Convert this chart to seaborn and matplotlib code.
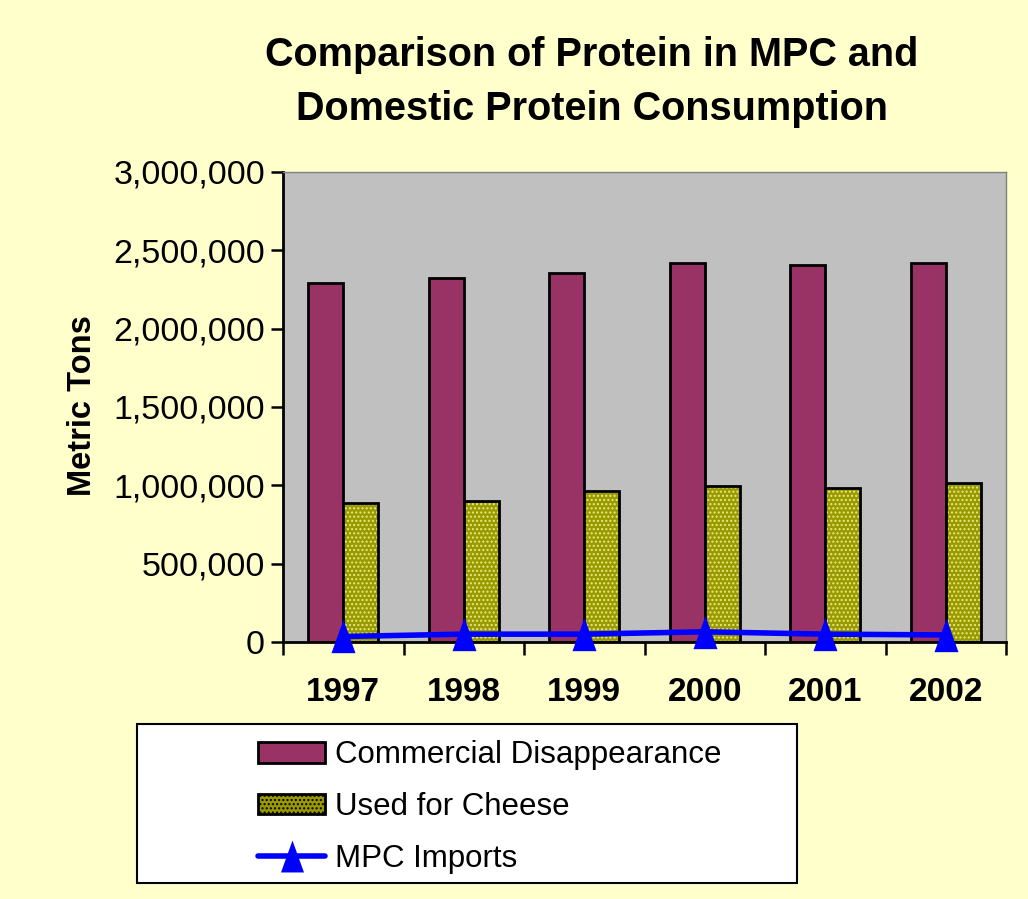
import pandas as pd
import numpy as np
import seaborn as sns
import matplotlib.pyplot as plt
from matplotlib.patches import Rectangle, Patch
from matplotlib.lines import Line2D
from matplotlib.ticker import FuncFormatter, FixedLocator

years = ["1997", "1998", "1999", "2000", "2001", "2002"]
commercial = [2290000, 2323000, 2355000, 2419000, 2406000, 2419000]
cheese = [887000, 900000, 964000, 996000, 983000, 1015000]
mpc_imports = [35000, 50000, 50000, 65000, 50000, 45000]

series_names = ["Commercial Disappearance", "Used for Cheese"]

sns.set_style("white")
plt.rcParams['font.family'] = ['Liberation Sans', 'DejaVu Sans']
plt.rcParams['text.color'] = 'black'
plt.rcParams['axes.labelcolor'] = 'black'
plt.rcParams['xtick.color'] = 'black'
plt.rcParams['ytick.color'] = 'black'

df = pd.DataFrame({
    "Year": years * 2,
    "Series": [series_names[0]] * len(years) + [series_names[1]] * len(years),
    "Tons": commercial + cheese,
})
mpc_df = pd.DataFrame({"Year": years, "Tons": mpc_imports})

fig = plt.figure(figsize=(10.28, 8.99), dpi=100, facecolor="#FFFFCC")
ax = fig.add_axes([0.2753, 0.2859, 0.7033, 0.5228])
ax.set_facecolor("#C0C0C0")

sns.barplot(data=df, x="Year", y="Tons", hue="Series", order=years,
            hue_order=series_names, palette=["#993366", "#999900"], saturation=1,
            width=0.58, edgecolor="black", linewidth=2, legend=False, ax=ax)

# cheese bars: dotted texture with light dots, then black outline on top
n = len(years)
for p in ax.patches[n:2 * n]:
    p.set_hatch("....")
    p.set_edgecolor("#E8E880")
    p.set_linewidth(0)
    ax.add_patch(Rectangle(p.get_xy(), p.get_width(), p.get_height(),
                           fill=False, edgecolor="black", linewidth=2, zorder=p.get_zorder() + 0.1))

sns.pointplot(data=mpc_df, x="Year", y="Tons", order=years, color="#0000FF",
              markers="^", linestyles="-", errorbar=None, ax=ax)
tri = [(0, 1), (-0.72, -1), (0.72, -1)]
for ln in ax.lines:
    ln.set_marker(tri)
    ln.set_markersize(24)
    ln.set_linewidth(4)
    ln.set_markeredgewidth(0)
    ln.set_clip_on(False)
    ln.set_zorder(5)

ax.set_xlim(-0.5, n - 0.5)
ax.set_ylim(0, 3000000)
ax.set_yticks(np.arange(0, 3000001, 500000))
ax.yaxis.set_major_formatter(FuncFormatter(lambda v, _: f"{int(v):,}"))
ax.tick_params(axis="y", which="major", direction="out", length=9, width=1.8,
               labelsize=24.5, pad=4, left=True)
ax.tick_params(axis="x", which="major", length=0, labelsize=24, pad=25)
for lab in ax.get_xticklabels():
    lab.set_fontweight("bold")
ax.xaxis.set_minor_locator(FixedLocator(np.arange(-0.5, n, 1.0)))
ax.tick_params(axis="x", which="minor", direction="out", length=9, width=1.8,
               bottom=True)

ax.set_xlabel("")
ax.set_ylabel("Metric Tons", fontsize=23.5, fontweight="bold")
ax.yaxis.set_label_coords(-0.256, 0.504)

for side in ["left", "bottom"]:
    ax.spines[side].set_color("black")
    ax.spines[side].set_linewidth(2)
for side in ["top", "right"]:
    ax.spines[side].set_color("#808080")
    ax.spines[side].set_linewidth(1)

fig.text(0.576, 0.909, "Comparison of Protein in MPC and\nDomestic Protein Consumption",
         ha="center", va="center", fontsize=28.5, fontweight="bold", linespacing=1.52)

handles = [
    Patch(facecolor="#993366", edgecolor="black", linewidth=2),
    Patch(facecolor="#999900", edgecolor="black", linewidth=2, hatch="...."),
    Line2D([0], [0], color="#0000FF", linewidth=4, marker=tri, markersize=23,
           markeredgewidth=0),
]
fig.legend(handles, series_names + ["MPC Imports"], loc="upper left",
           bbox_to_anchor=(0.251, 0.1768), frameon=False, fontsize=22.5,
           borderpad=0, borderaxespad=0,
           handlelength=2.15, handleheight=0.65, handletextpad=0.3, labelspacing=0.70)
fig.add_artist(Rectangle((0.1333, 0.0178), 0.642, 0.1769, transform=fig.transFigure,
                         facecolor="white", edgecolor="black", linewidth=1.5, zorder=-1))

plt.savefig("out.png", dpi=100, facecolor=fig.get_facecolor())
